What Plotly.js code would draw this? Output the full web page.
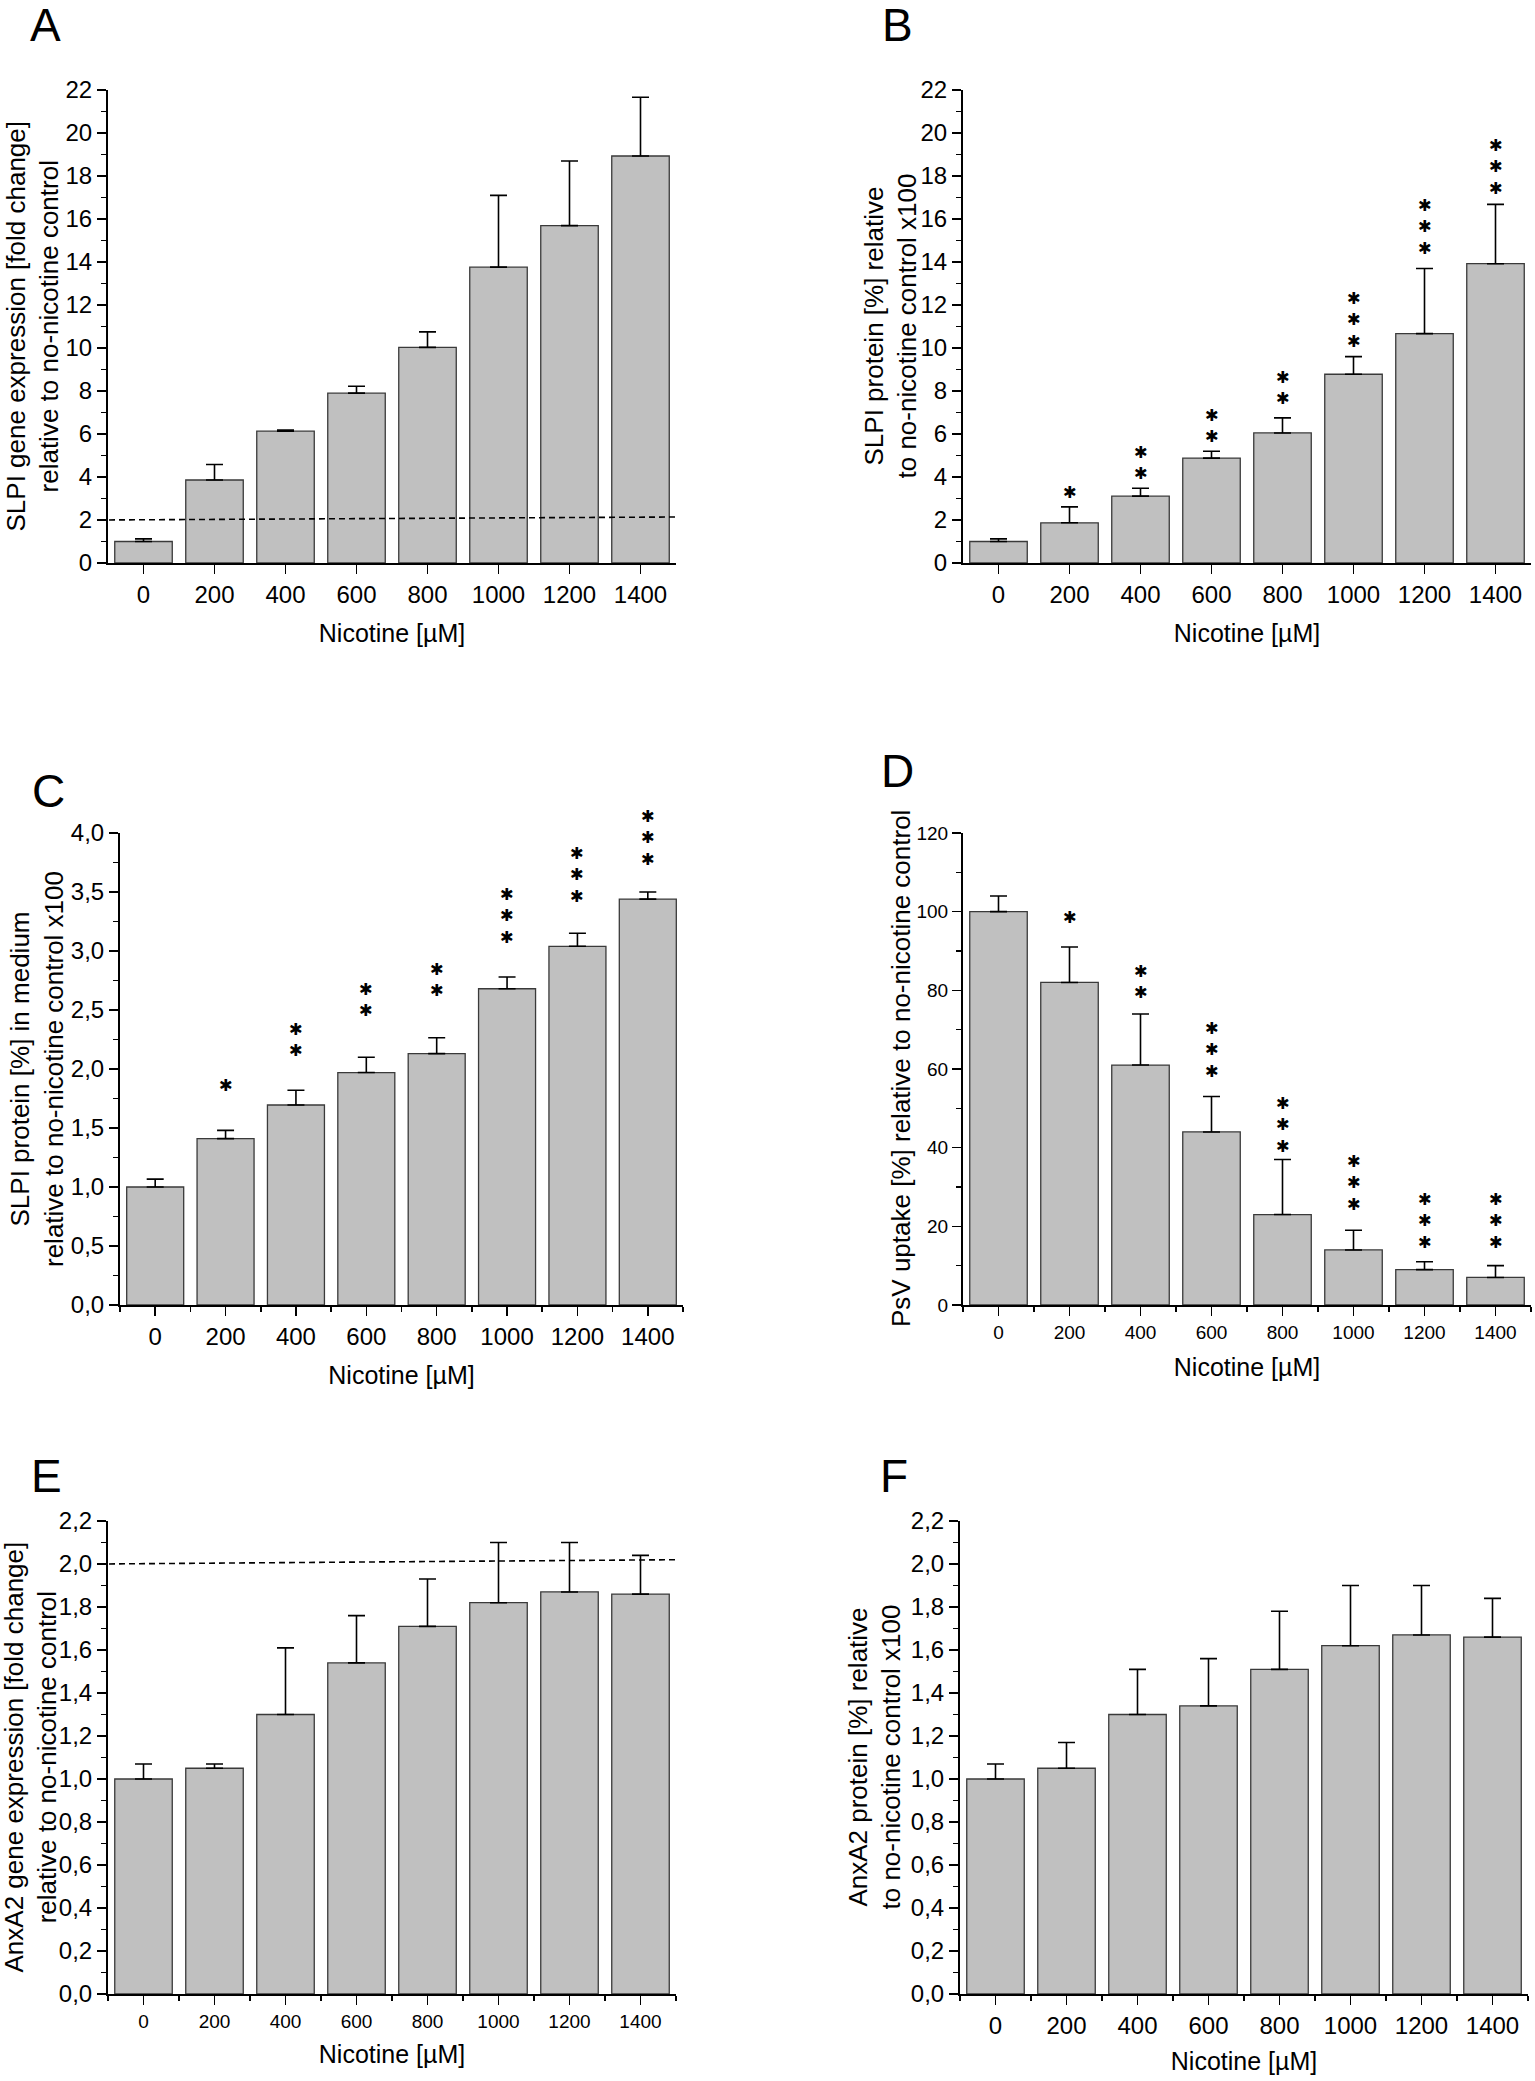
<!DOCTYPE html>
<html>
<head>
<meta charset="utf-8">
<script src="https://cdn.plot.ly/plotly-3.0.1.min.js"></script>
<style>
  html, body { margin: 0; padding: 0; background: #fff; }
  #fig { width: 1535px; height: 2081px; }
</style>
</head>
<body>
<div id="fig"></div>
<script>
// nicotine doses, shared by every panel
const nicotine = [0, 200, 400, 600, 800, 1000, 1200, 1400];

// A: SLPI gene expression
const slpiGeneMean = [1.0, 3.86, 6.13, 7.9, 10.03, 13.76, 15.69, 18.93];
const slpiGeneSem  = [0.12, 0.72, 0.05, 0.32, 0.72, 3.34, 3.01, 2.73];
const slpiGeneCutoff = [2.0, 2.14];

// B: SLPI protein
const slpiProtMean = [1.0, 1.87, 3.11, 4.88, 6.05, 8.78, 10.67, 13.92];
const slpiProtSem  = [0.12, 0.74, 0.37, 0.32, 0.70, 0.82, 3.03, 2.76];
const slpiProtStars = [0, 1, 2, 2, 2, 3, 3, 3];
const slpiProtStarY = [null, 3.21, 4.08, 5.83, 7.59, 10.25, 14.57, 17.34];

// C: SLPI protein in medium
const slpiMedMean = [1.0, 1.41, 1.695, 1.97, 2.13, 2.68, 3.04, 3.44];
const slpiMedSem  = [0.067, 0.07, 0.125, 0.13, 0.135, 0.10, 0.11, 0.06];
const slpiMedStars = [0, 1, 2, 2, 2, 3, 3, 3];
const slpiMedStarY = [null, 1.845, 2.144, 2.484, 2.655, 3.105, 3.452, 3.763];

// D: PsV uptake
const psvMean = [100, 82, 61, 44, 23, 14, 9, 7];
const psvSem  = [4, 9, 13, 9, 14, 5, 2, 3];
const psvStars = [0, 1, 2, 3, 3, 3, 3, 3];
const psvStarY = [null, 98.2, 79.0, 58.9, 39.8, 25.2, 15.6, 15.6];

// E: AnxA2 gene expression
const anxGeneMean = [1.0, 1.05, 1.30, 1.54, 1.71, 1.82, 1.87, 1.86];
const anxGeneSem  = [0.07, 0.02, 0.31, 0.22, 0.22, 0.28, 0.23, 0.18];
const anxGeneCutoff = [2.0, 2.02];

// F: AnxA2 protein
const anxProtMean = [1.0, 1.05, 1.30, 1.34, 1.51, 1.62, 1.67, 1.66];
const anxProtSem  = [0.07, 0.12, 0.21, 0.22, 0.27, 0.28, 0.23, 0.18];

const W = 1535, H = 2081;
const FONT = 'Liberation Sans, Arial, sans-serif';

function px(x) { return x / W; }
function py(y) { return 1 - y / H; }

var data = [];
var layout = {
    width: W,
    height: H,
    margin: {l: 0, r: 0, t: 0, b: 0, autoexpand: false},
    paper_bgcolor: '#fff',
    plot_bgcolor: 'rgba(0,0,0,0)',
    showlegend: false,
    separators: ', ',
    font: {family: FONT, color: '#000'},
    annotations: [],
    shapes: []
};

function addPanel(n, cfg) {
    var xa = n === 1 ? 'x' : 'x' + n;
    var ya = n === 1 ? 'y' : 'y' + n;

    data.push({
        type: 'bar',
        x: nicotine,
        y: cfg.mean,
        width: 162,
        xaxis: xa,
        yaxis: ya,
        marker: {color: '#c0c0c0', line: {color: '#3a3a3a', width: 1.3}},
        error_y: {
            type: 'data',
            symmetric: false,
            array: cfg.sem,
            arrayminus: cfg.sem.map(() => 0),
            color: '#000',
            thickness: 1.6,
            width: 8.5
        },
        hoverinfo: 'skip'
    });

    // boundaries between the bars, used for minor x ticks
    var bounds = nicotine.map(v => v - 100).concat([nicotine[nicotine.length - 1] + 100]);

    layout[xa === 'x' ? 'xaxis' : 'xaxis' + n] = {
        domain: [px(cfg.box[0]), px(cfg.box[1])],
        anchor: ya,
        range: [-100, 1500],
        tickmode: 'array',
        tickvals: nicotine,
        ticktext: nicotine.map(String),
        ticks: 'outside',
        ticklen: 9,
        tickwidth: 1.6,
        tickcolor: '#000',
        showline: true,
        linecolor: '#000',
        linewidth: 2,
        showgrid: false,
        zeroline: false,
        fixedrange: true,
        tickfont: {size: cfg.xTickSize, family: FONT, color: '#000'},
        ticklabelstandoff: 0,
        minor: cfg.xMinor ? {tickmode: 'array', tickvals: bounds, ticks: 'outside', ticklen: 5, tickwidth: 1.6, tickcolor: '#000'} : undefined,
        title: {text: 'Nicotine [µM]', font: {size: 25, family: FONT, color: '#000'}, standoff: cfg.xTitleGap}
    };

    layout[ya === 'y' ? 'yaxis' : 'yaxis' + n] = {
        domain: [py(cfg.box[3]), py(cfg.box[2])],
        anchor: xa,
        range: cfg.yRange,
        dtick: cfg.dtick,
        tick0: 0,
        tickformat: cfg.yFormat || '',
        ticks: 'outside',
        ticklen: 9,
        tickwidth: 1.6,
        tickcolor: '#000',
        minor: {dtick: cfg.dtick / 2, ticks: 'outside', ticklen: 5, tickwidth: 1.6, tickcolor: '#000'},
        showline: true,
        linecolor: '#000',
        linewidth: 2,
        showgrid: false,
        zeroline: false,
        fixedrange: true,
        tickfont: {size: cfg.yTickSize, family: FONT, color: '#000'},
        ticklabelstandoff: 0
    };

    // y title, rotated, placed next to the tick labels
    layout.annotations.push({
        xref: 'paper', yref: 'paper',
        x: px(cfg.yTitleX), y: py((cfg.box[2] + cfg.box[3]) / 2),
        xanchor: 'center', yanchor: 'middle',
        textangle: -90,
        text: cfg.yTitle, showarrow: false,
        font: {size: 26, family: FONT, color: '#000'}
    });

    // panel letter
    layout.annotations.push({
        xref: 'paper', yref: 'paper',
        x: px(cfg.letterAt[0]), y: py(cfg.letterAt[1]),
        xanchor: 'center', yanchor: 'middle',
        text: cfg.letter, showarrow: false,
        font: {size: 46, family: FONT, color: '#000'}
    });

    // significance stars, one stacked block per bar
    if (cfg.stars) {
        cfg.stars.forEach(function (count, i) {
            if (!count) return;
            layout.annotations.push({
                xref: xa, yref: ya,
                x: nicotine[i], y: cfg.starY[i],
                yshift: -10,
                xanchor: 'center', yanchor: 'bottom',
                text: Array(count).fill('✱').join('<br>'),
                showarrow: false,
                font: {size: 16.5, family: 'DejaVu Sans', color: '#000'}
            });
        });
    }

    // dashed 2-fold line
    if (cfg.cutoff) {
        layout.shapes.push({
            type: 'line',
            xref: 'paper', yref: ya,
            x0: px(cfg.box[0] - 9), x1: px(cfg.box[1]),
            y0: cfg.cutoff[0], y1: cfg.cutoff[1],
            line: {color: '#000', width: 1.6, dash: '6px,4px'}
        });
    }
}

addPanel(1, {
    box: [108, 676, 90, 563], letter: 'A', letterAt: [45, 25],
    mean: slpiGeneMean, sem: slpiGeneSem, cutoff: slpiGeneCutoff,
    yRange: [0, 22], dtick: 2, yTickSize: 24, xTickSize: 24,
    xMinor: false, xTitleGap: 18, yTitleX: 32,
    yTitle: 'SLPI gene expression [fold change]<br>relative to no-nicotine control'
});

addPanel(2, {
    box: [963, 1531, 90, 563], letter: 'B', letterAt: [898, 25],
    mean: slpiProtMean, sem: slpiProtSem, stars: slpiProtStars, starY: slpiProtStarY,
    yRange: [0, 22], dtick: 2, yTickSize: 24, xTickSize: 24,
    xMinor: false, xTitleGap: 18, yTitleX: 890,
    yTitle: 'SLPI protein [%] relative<br>to no-nicotine control x100'
});

addPanel(3, {
    box: [120, 683, 833, 1305], letter: 'C', letterAt: [49, 791],
    mean: slpiMedMean, sem: slpiMedSem, stars: slpiMedStars, starY: slpiMedStarY,
    yRange: [0, 4], dtick: 0.5, yFormat: '.1f', yTickSize: 24, xTickSize: 24,
    xMinor: true, xTitleGap: 18, yTitleX: 37,
    yTitle: 'SLPI protein [%] in medium<br>relative to no-nicotine control x100'
});

addPanel(4, {
    box: [963, 1531, 833, 1305], letter: 'D', letterAt: [898, 771],
    mean: psvMean, sem: psvSem, stars: psvStars, starY: psvStarY,
    yRange: [0, 120], dtick: 20, yTickSize: 19, xTickSize: 19,
    xMinor: true, xTitleGap: 17, yTitleX: 901,
    yTitle: 'PsV uptake [%] relative to no-nicotine control'
});

addPanel(5, {
    box: [108, 676, 1521, 1994], letter: 'E', letterAt: [46, 1476],
    mean: anxGeneMean, sem: anxGeneSem, cutoff: anxGeneCutoff,
    yRange: [0, 2.2], dtick: 0.2, yFormat: '.1f', yTickSize: 24, xTickSize: 19,
    xMinor: true, xTitleGap: 15, yTitleX: 30,
    yTitle: 'AnxA2 gene expression [fold change]<br>relative to no-nicotine control'
});

addPanel(6, {
    box: [960, 1528, 1521, 1994], letter: 'F', letterAt: [894, 1476],
    mean: anxProtMean, sem: anxProtSem,
    yRange: [0, 2.2], dtick: 0.2, yFormat: '.1f', yTickSize: 24, xTickSize: 24,
    xMinor: true, xTitleGap: 15, yTitleX: 874,
    yTitle: 'AnxA2 protein [%] relative<br>to no-nicotine control x100'
});

Plotly.newPlot('fig', data, layout, {displayModeBar: false, staticPlot: true});
</script>
</body>
</html>
